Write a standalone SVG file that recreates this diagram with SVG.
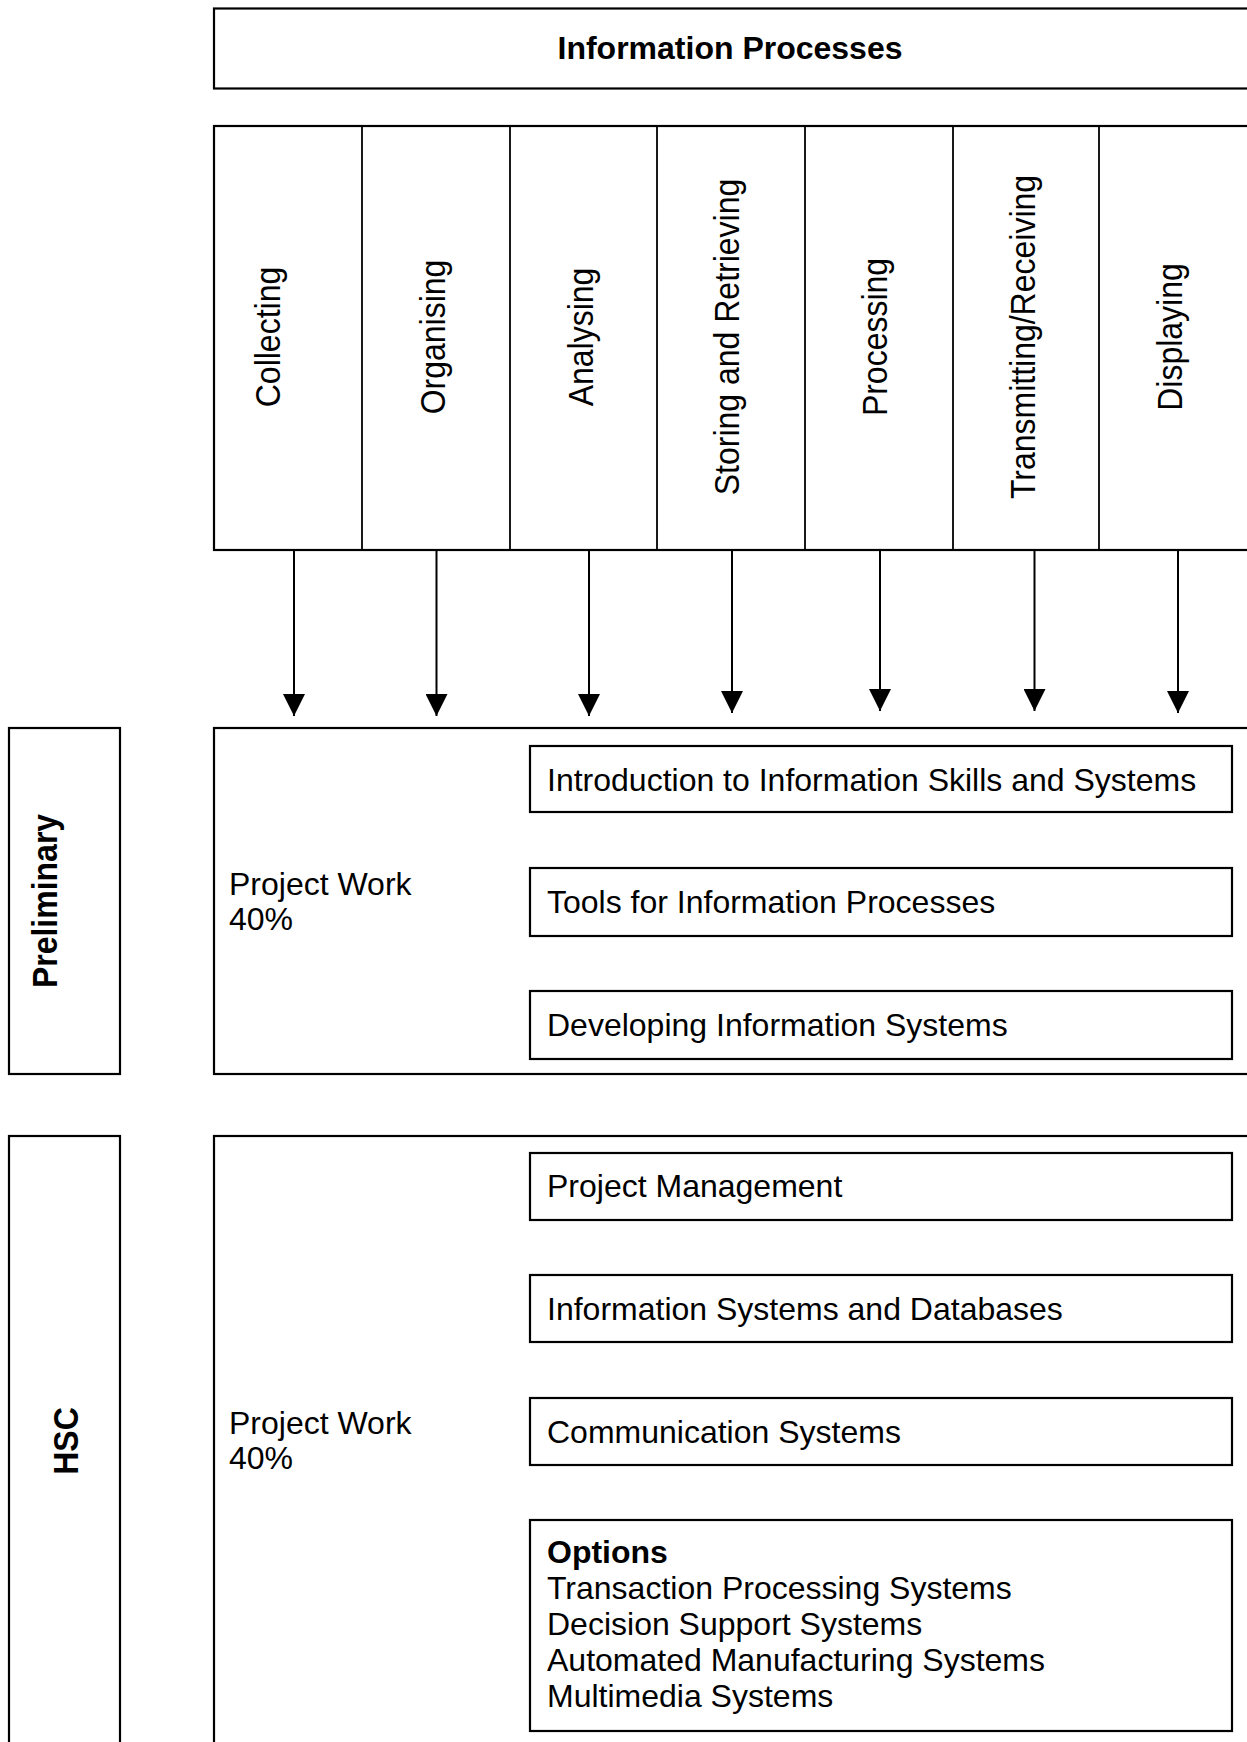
<svg xmlns="http://www.w3.org/2000/svg" width="1247" height="1742" viewBox="0 0 1247 1742">
<style>
.box{fill:#fff;stroke:#000;stroke-width:2.2}
.div{stroke:#000;stroke-width:1.8}
.t{font-family:"Liberation Sans",Arial,sans-serif;font-size:32px;fill:#000}
.b{font-weight:bold}
.mid{text-anchor:middle}
.conn{stroke:#000;stroke-width:2;fill:none}
</style>
<defs>
<marker id="ah" markerUnits="userSpaceOnUse" markerWidth="22" markerHeight="22" refX="21" refY="10.5" orient="auto" viewBox="0 0 21 21">
<path d="M0,0 L21,10.5 L0,21 Z" fill="#000"/>
</marker>
</defs>
<rect width="1247" height="1742" fill="#fff"/>

<g id="title">
<rect class="box" x="214" y="8.5" width="1040" height="80"/>
<text class="t b mid" x="730" y="59">Information Processes</text>
</g>

<g id="processes">
<rect class="box" x="214" y="126" width="1040" height="424"/>
<line class="div" x1="362" y1="126" x2="362" y2="550"/>
<line class="div" x1="510" y1="126" x2="510" y2="550"/>
<line class="div" x1="657" y1="126" x2="657" y2="550"/>
<line class="div" x1="805" y1="126" x2="805" y2="550"/>
<line class="div" x1="953" y1="126" x2="953" y2="550"/>
<line class="div" x1="1099" y1="126" x2="1099" y2="550"/>
</g>
<g id="p-collecting"><text class="t mid" transform="translate(280,337) rotate(-90) scale(1,1.1)">Collecting</text></g>
<g id="p-organising"><text class="t mid" transform="translate(445,337) rotate(-90) scale(1,1.1)">Organising</text></g>
<g id="p-analysing"><text class="t mid" transform="translate(593,337) rotate(-90) scale(1,1.1)">Analysing</text></g>
<g id="p-storing"><text class="t mid" transform="translate(739,337) rotate(-90) scale(1,1.1)">Storing and Retrieving</text></g>
<g id="p-processing"><text class="t mid" transform="translate(887,337) rotate(-90) scale(1,1.1)">Processing</text></g>
<g id="p-transmitting"><text class="t mid" transform="translate(1035,337) rotate(-90) scale(1,1.1)">Transmitting/Receiving</text></g>
<g id="p-displaying"><text class="t mid" transform="translate(1182,337) rotate(-90) scale(1,1.1)">Displaying</text></g>

<g id="connectors">
<line class="conn" x1="294" y1="551" x2="294" y2="716" marker-end="url(#ah)"/>
<line class="conn" x1="436.5" y1="551" x2="436.5" y2="716" marker-end="url(#ah)"/>
<line class="conn" x1="589" y1="551" x2="589" y2="716" marker-end="url(#ah)"/>
<line class="conn" x1="732" y1="551" x2="732" y2="713" marker-end="url(#ah)"/>
<line class="conn" x1="880" y1="551" x2="880" y2="711" marker-end="url(#ah)"/>
<line class="conn" x1="1034.5" y1="551" x2="1034.5" y2="711" marker-end="url(#ah)"/>
<line class="conn" x1="1178" y1="551" x2="1178" y2="713" marker-end="url(#ah)"/>
</g>

<g id="preliminary-label">
<rect class="box" x="9" y="728" width="111" height="346"/>
<text class="t b mid" transform="translate(57,901) rotate(-90) scale(1,1.1)">Preliminary</text>
</g>

<g id="preliminary">
<rect class="box" x="214" y="728" width="1040" height="346"/>
<text class="t" x="229" y="895">Project Work</text>
<text class="t" x="229" y="930">40%</text>
</g>
<g id="intro">
<rect class="box" x="530" y="746" width="702" height="66"/>
<text class="t" x="547" y="791">Introduction to Information Skills and Systems</text>
</g>
<g id="tools">
<rect class="box" x="530" y="868" width="702" height="68"/>
<text class="t" x="547" y="913">Tools for Information Processes</text>
</g>
<g id="developing">
<rect class="box" x="530" y="991" width="702" height="68"/>
<text class="t" x="547" y="1036">Developing Information Systems</text>
</g>

<g id="hsc-label">
<rect class="box" x="9" y="1136" width="111" height="620"/>
<text class="t b mid" transform="translate(78,1441) rotate(-90) scale(1,1.1)">HSC</text>
</g>

<g id="hsc">
<rect class="box" x="214" y="1136" width="1040" height="620"/>
<text class="t" x="229" y="1434">Project Work</text>
<text class="t" x="229" y="1469">40%</text>
</g>
<g id="project-management">
<rect class="box" x="530" y="1153" width="702" height="67"/>
<text class="t" x="547" y="1197">Project Management</text>
</g>
<g id="info-systems">
<rect class="box" x="530" y="1275" width="702" height="67"/>
<text class="t" x="547" y="1320">Information Systems and Databases</text>
</g>
<g id="communication">
<rect class="box" x="530" y="1398" width="702" height="67"/>
<text class="t" x="547" y="1443">Communication Systems</text>
</g>
<g id="options">
<rect class="box" x="530" y="1520" width="702" height="211"/>
<text class="t b" x="547" y="1563">Options</text>
<text class="t" x="547" y="1599">Transaction Processing Systems</text>
<text class="t" x="547" y="1635">Decision Support Systems</text>
<text class="t" x="547" y="1671">Automated Manufacturing Systems</text>
<text class="t" x="547" y="1707">Multimedia Systems</text>
</g>
</svg>
